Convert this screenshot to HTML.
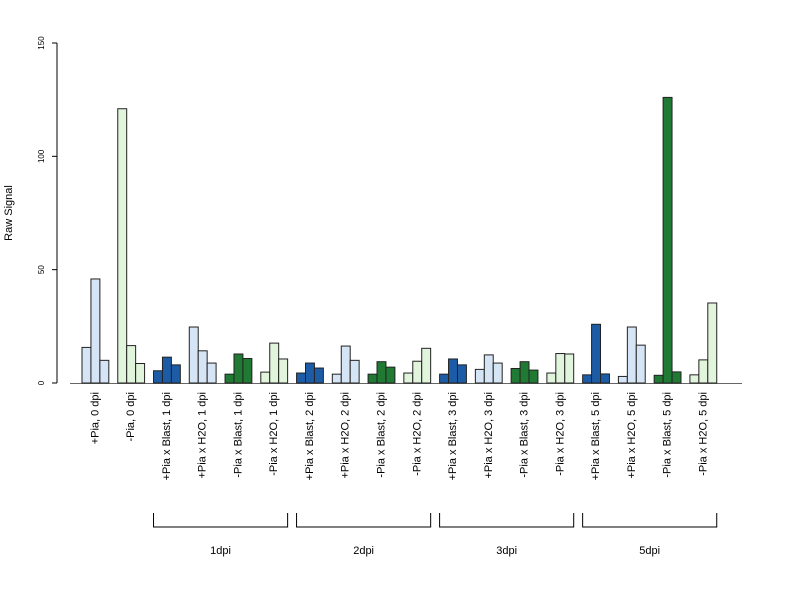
<!DOCTYPE html>
<html><head><meta charset="utf-8"><style>body{margin:0;background:#fff}svg{display:block;font-family:"Liberation Sans",sans-serif}</style></head>
<body>
<svg id="chart" width="800" height="600" viewBox="0 0 800 600"></svg>
<script>
const categories=["+Pia, 0 dpi","-Pia, 0 dpi","+Pia x Blast, 1 dpi","+Pia x H2O, 1 dpi","-Pia x Blast, 1 dpi","-Pia x H2O, 1 dpi","+Pia x Blast, 2 dpi","+Pia x H2O, 2 dpi","-Pia x Blast, 2 dpi","-Pia x H2O, 2 dpi","+Pia x Blast, 3 dpi","+Pia x H2O, 3 dpi","-Pia x Blast, 3 dpi","-Pia x H2O, 3 dpi","+Pia x Blast, 5 dpi","+Pia x H2O, 5 dpi","-Pia x Blast, 5 dpi","-Pia x H2O, 5 dpi"];
const rep1=[15.7,121,5.4,24.7,3.9,4.8,4.4,3.9,3.9,4.4,3.9,6.0,6.4,4.4,3.6,2.9,3.4,3.6];
const rep2=[45.9,16.5,11.4,14.2,12.8,17.6,8.8,16.3,9.4,9.6,10.6,12.4,9.4,13.0,25.9,24.7,126,10.2];
const rep3=[10.0,8.6,8.0,8.8,10.8,10.6,6.6,10.0,7.0,15.3,8.0,8.8,5.7,12.8,4.0,16.7,4.9,35.3];
const colorKeys=["lb","lg","db","lb","dg","lg","db","lb","dg","lg","db","lb","dg","lg","db","lb","dg","lg"];
const yTicks=[0,50,100,150];
const brackets=[["1dpi",2,5],["2dpi",6,9],["3dpi",10,13],["5dpi",14,17]];
const palette={lb:"#d5e5f5",lg:"#e1f4dc",db:"#1c5ca7",dg:"#217a34"};
const NS="http://www.w3.org/2000/svg";
const svg=document.getElementById('chart');
function mk(t,a,p){const e=document.createElementNS(NS,t);for(const k in a)e.setAttribute(k,a[k]);(p||svg).appendChild(e);return e;}
const unit=8.94,x0=73.06;
const y=v=>383-v*340/150;
const gx=i=>x0+unit+i*4*unit;
// axes
const ax=mk('g',{});
mk('line',{x1:57,x2:57,y1:y(0),y2:y(150),stroke:'#000'},ax);
yTicks.forEach(t=>{mk('line',{x1:52,x2:57,y1:y(t),y2:y(t),stroke:'#000'},ax);
const tx=mk('text',{x:44,y:y(t),'font-size':8,'text-anchor':'middle',transform:`rotate(-90 44 ${y(t)})`},ax);tx.textContent=t;
});
const yt=mk('text',{x:12,y:213,'font-size':11,'text-anchor':'middle',transform:'rotate(-90 12 213)'});yt.textContent='Raw Signal';

const base=mk('line',{x1:70,x2:742,y1:383.5,y2:383.5,stroke:'#666'});

categories.forEach((c,i)=>{
 const vals=[rep1[i],rep2[i],rep3[i]];
 vals.forEach((v,j)=>{
  const r=mk('rect',{x:gx(i)+j*unit,y:y(v),width:unit,height:y(0)-y(v),fill:palette[colorKeys[i]],stroke:'#222','stroke-width':1});
  
  
 });
 const cx=gx(i)+1.5*unit+3;
 const t=mk('text',{x:cx,y:392,'font-size':11,'text-anchor':'end',transform:`rotate(-90 ${cx} 392)`});
 t.textContent=c;
 
 
});
brackets.forEach(b=>{
 const xa=gx(b[1]),xb=gx(b[2])+3*unit;
 const g=mk('g',{});
 
 
 mk('path',{d:`M${xa} 513V527H${xb}V513`,fill:'none',stroke:'#000'},g);
 const t=mk('text',{x:(xa+xb)/2,y:554,'font-size':11,'text-anchor':'middle'},g);t.textContent=b[0];
});
</script>
</body></html>
